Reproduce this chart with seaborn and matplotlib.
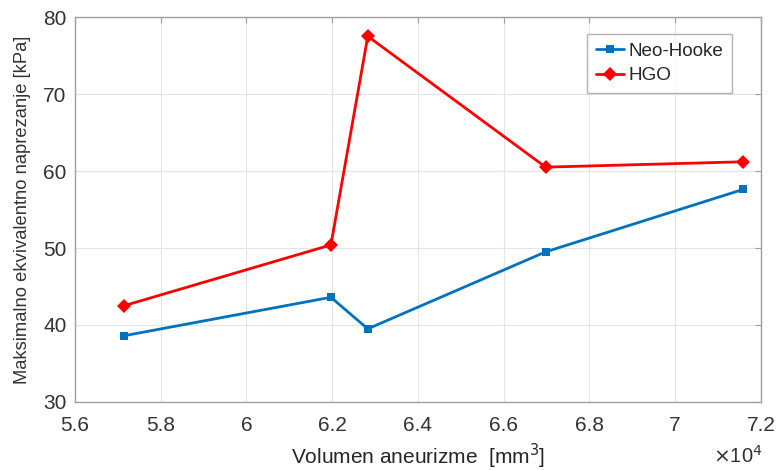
import seaborn as sns
import matplotlib.pyplot as plt
import matplotlib.ticker as mticker
import pandas as pd

# volumes [mm^3] and max equivalent stress [kPa]
volumen = [57140, 61970, 62830, 66980, 71580]
neo_hooke = [38.6, 43.6, 39.5, 49.5, 57.6]
hgo = [42.5, 50.4, 77.5, 60.5, 61.2]

df = pd.DataFrame({"volumen": volumen, "Neo-Hooke": neo_hooke, "HGO": hgo})

sns.set_style("white")
plt.rcParams["font.family"] = ["Liberation Sans", "DejaVu Sans"]

fig = plt.figure(figsize=(7.78, 4.70), dpi=100)
ax = fig.add_axes([0.0964, 0.1447, 0.8816, 0.8191])

sns.lineplot(data=df, x="volumen", y="Neo-Hooke", ax=ax, color="#0072BD",
             marker="s", markersize=6, markeredgewidth=0, linewidth=2, label="Neo-Hooke")
sns.lineplot(data=df, x="volumen", y="HGO", ax=ax, color="#FF0000",
             marker="D", markersize=7, markeredgewidth=0, linewidth=2, label="HGO")

ax.set_xlim(56000, 72000)
ax.set_ylim(30, 80)
ax.set_xticks([56000 + 2000 * i for i in range(9)])
ax.set_yticks([30, 40, 50, 60, 70, 80])
ax.xaxis.set_major_formatter(mticker.FuncFormatter(lambda v, p: "%g" % round(v / 1e4, 1)))

ax.grid(True, color="#e4e4e4", linewidth=0.8)
for s in ax.spines.values():
    s.set_color("#a0a0a0")
    s.set_linewidth(1.0)
ax.tick_params(direction="in", length=4, color="#a0a0a0", top=True, right=True,
               labelsize=15, labelcolor="#333333")
ax.tick_params(axis="x", pad=10)
ax.tick_params(axis="y", pad=6)

ax.set_xlabel("Volumen aneurizme  [mm$^3$]", fontsize=15, color="#262626", labelpad=5)
ax.set_ylabel("Maksimalno ekvivalentno naprezanje [kPa]", fontsize=13.2, color="#333333", labelpad=9)
ax.text(1.002, -0.14, r"$\times$10$^4$", transform=ax.transAxes, ha="right", va="center",
        fontsize=14.5, color="#333333")

leg = ax.legend(loc="upper right", bbox_to_anchor=(0.958, 0.956), borderaxespad=0,
                fontsize=13.6, frameon=True, fancybox=False, edgecolor="#a0a0a0",
                handlelength=1.5, handletextpad=0.25, borderpad=0.45, labelspacing=0.4)
leg.get_frame().set_linewidth(1.0)

fig.savefig("out.png", dpi=100)
